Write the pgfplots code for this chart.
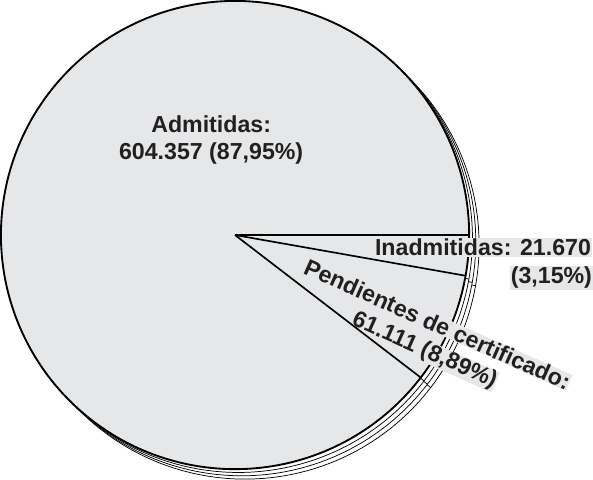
\documentclass[border=0pt]{standalone}
\usepackage{pgfplots}
\pgfplotsset{compat=1.18}
\usepackage{pgfplotstable}
\usepackage{fontspec}
\setmainfont{Liberation Sans}
\definecolor{piefill}{RGB}{230,231,232}
\definecolor{txt}{RGB}{35,31,32}
% slice boundary rays (image pixel coords): centre and rim points
\pgfplotstableread{
x y
241 238
466.5 238
}\rayA
\pgfplotstableread{
x y
241 238
463.1 277.2
}\rayB
\pgfplotstableread{
x y
241 238
419.9 375.3
}\rayC
\begin{document}
\begin{tikzpicture}
\begin{axis}[
  x=1bp, y=1bp, y dir=reverse,
  xmin=0, xmax=593, ymin=0, ymax=473,
  hide axis, clip=false,
]
% stacked lower layers
\pgfplotsinvokeforeach{3,2,1}{
  \addplot[draw=black, line width=0.7bp, fill=white, domain=0:360, samples=241]
    ({241+3.2*#1+225.5*cos(x)},{238+3.2*#1+225.5*sin(x)});
  \addplot[black, line width=0.7bp] table[x expr=\thisrow{x}+3.2*#1, y expr=\thisrow{y}+3.2*#1] {\rayA};
  \addplot[black, line width=0.7bp] table[x expr=\thisrow{x}+3.2*#1, y expr=\thisrow{y}+3.2*#1] {\rayB};
  \addplot[black, line width=0.7bp] table[x expr=\thisrow{x}+3.2*#1, y expr=\thisrow{y}+3.2*#1] {\rayC};
}
% top layer
\addplot[draw=black, line width=1.8bp, fill=piefill, domain=0:360, samples=361]
  ({241+225.5*cos(x)},{238+225.5*sin(x)});
% labels
\begin{scope}[every node/.style={font=\bfseries\fontsize{22.4}{24}\selectfont, text=txt}]
\node[anchor=base] at (axis cs:218,139.3) {Admitidas:};
\node[anchor=base] at (axis cs:218,165.5) {604.357 (87,95\%)};
\node[anchor=base east, fill=piefill, inner sep=1bp] at (axis cs:585,258) {Inadmitidas: 21.670};
\node[anchor=base east, fill=piefill, inner sep=1bp] at (axis cs:586,285) {(3,15\%)};
\node[rotate=-24, fill=piefill, inner sep=0bp] at (axis cs:423.5,349.5) {61.111 (8,89\%)};
\node[rotate=-24, fill=piefill, inner sep=0bp] at (axis cs:436,324) {Pendientes de certificado:};
\end{scope}
% slice boundaries of the top layer
\addplot[black, line width=1.6bp] table {\rayA};
\addplot[black, line width=1.6bp] table {\rayB};
\addplot[black, line width=1.6bp] table {\rayC};
\end{axis}
\end{tikzpicture}
\end{document}
